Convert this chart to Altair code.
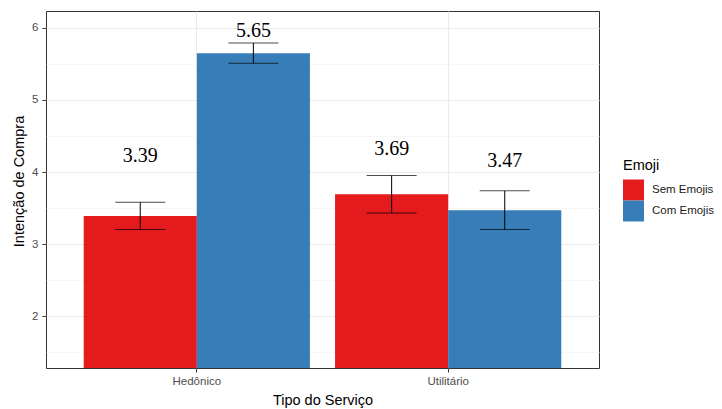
import altair as alt
import pandas as pd

# Purchase intention by service type and emoji condition
servico = ["Hedônico", "Hedônico", "Utilitário", "Utilitário"]
emoji = ["Sem Emojis", "Com Emojis", "Sem Emojis", "Com Emojis"]
media = [3.39, 5.65, 3.69, 3.47]
erro_inf = [3.20, 5.51, 3.43, 3.20]
erro_sup = [3.58, 5.79, 3.95, 3.74]
rotulo_y = [4.14, 5.875, 4.24, 4.07]

grupos = ["Sem Emojis", "Com Emojis"]
cores = ["#E41A1C", "#377EB8"]
ticks_y = [2, 3, 4, 5, 6]
ticks_y_menores = [1.5, 2.5, 3.5, 4.5, 5.5]

df = pd.DataFrame({
    "servico": servico,
    "emoji": emoji,
    "media": media,
    "inf": erro_inf,
    "sup": erro_sup,
    "rotulo_y": rotulo_y,
    "rotulo": [f"{v:.2f}" for v in media],
})

sans = "Liberation Sans"

x_enc = alt.X(
    "servico:N",
    title="Tipo do Serviço",
    scale=alt.Scale(paddingInner=0.1, paddingOuter=0.15),
    axis=alt.Axis(
        grid=True, bandPosition=0.5, domain=False,
        gridColor="#EBEBEB", gridWidth=1,
        tickColor="#333333", tickSize=4, labelAngle=0,
        labelFont=sans, labelFontSize=11.5, labelColor="#4D4D4D", labelPadding=3,
        titleFont=sans, titleFontSize=14.5, titleFontWeight="normal",
        titleColor="#000000", titlePadding=7,
    ),
)
xoff_enc = alt.XOffset("emoji:N", sort=grupos, scale=alt.Scale(paddingInner=0, paddingOuter=0))
y_scale = alt.Scale(domain=[1.278, 6.236], nice=False, zero=False)

base = alt.Chart(df).encode(x=x_enc, xOffset=xoff_enc)

barras = base.mark_bar(clip=True).encode(
    y=alt.Y(
        "media:Q",
        title="Intenção de Compra",
        scale=y_scale,
        axis=alt.Axis(
            values=ticks_y, domain=False, labelOverlap=False,
            gridColor="#EBEBEB", gridWidth=1,
            tickColor="#333333", tickSize=4,
            labelFont=sans, labelFontSize=11.5, labelColor="#4D4D4D", labelPadding=4,
            titleFont=sans, titleFontSize=14.5, titleFontWeight="normal",
            titleColor="#000000", titlePadding=5, titleY=170,
        ),
    ),
    color=alt.Color(
        "emoji:N",
        sort=grupos,
        scale=alt.Scale(domain=grupos, range=cores),
        legend=alt.Legend(
            title="Emoji", orient="none", legendX=577, legendY=148,
            padding=0, titlePadding=6, rowPadding=0,
            symbolType="square", symbolSize=441, symbolStrokeWidth=0,
            labelOffset=8, labelFont=sans, labelFontSize=11.5, labelColor="#1A1A1A",
            titleFont=sans, titleFontSize=14.5, titleFontWeight="normal",
            titleColor="#000000",
        ),
    ),
)

# whisker stems; this layer also carries the minor horizontal grid
hastes = base.mark_rule(color="#000000", strokeWidth=1).encode(
    y=alt.Y(
        "inf:Q",
        scale=y_scale,
        axis=alt.Axis(
            values=ticks_y_menores, orient="right", title=None,
            labels=False, ticks=False, domain=False,
            grid=True, gridColor="#F3F3F3", gridWidth=0.7,
        ),
    ),
    y2="sup:Q",
)
topo = base.mark_tick(color="#000000", size=50, thickness=1).encode(
    y=alt.Y("sup:Q", scale=y_scale, axis=None)
)
fundo = base.mark_tick(color="#000000", size=50, thickness=1).encode(
    y=alt.Y("inf:Q", scale=y_scale, axis=None)
)
rotulos = base.mark_text(
    font="Liberation Serif", fontSize=20, color="#000000", baseline="alphabetic"
).encode(
    y=alt.Y("rotulo_y:Q", scale=y_scale, axis=None),
    text="rotulo:N",
)

chart = (
    alt.layer(barras, hastes, topo, fundo, rotulos)
    .resolve_axis(y="independent")
    .properties(
        width=553, height=357,
        autosize=alt.AutoSizeParams(type="none"),
        padding={"left": 46, "top": 11, "right": 123, "bottom": 41},
        background="#FFFFFF",
    )
    .configure_view(stroke="#333333", strokeWidth=1, fill="#FFFFFF")
)

chart.save("out.html", embed_options={"renderer": "svg", "actions": False})
